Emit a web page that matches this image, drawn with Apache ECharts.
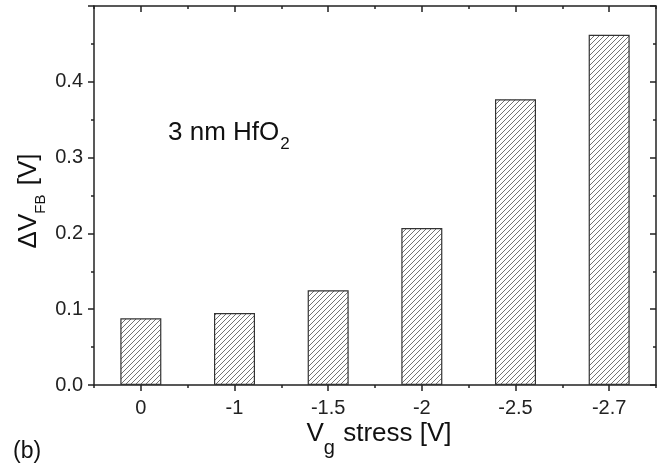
<!DOCTYPE html>
<html>
<head>
<meta charset="utf-8">
<script src="https://cdn.jsdelivr.net/npm/echarts@6/dist/echarts.min.js"></script>
<style>html,body{margin:0;padding:0;background:#fff}#c{width:668px;height:464px}</style>
</head>
<body>
<div id="c"></div>
<script>
const categories = ['0', '-1', '-1.5', '-2', '-2.5', '-2.7'];
const deltaVfb = [0.088, 0.095, 0.125, 0.207, 0.377, 0.462];
const yTicks = [0.0, 0.1, 0.2, 0.3, 0.4];

const FONT = '"Liberation Sans", Arial, sans-serif';
const AX = '#222';

function hatch() {
  const s = 5;
  const c = document.createElement('canvas');
  c.width = s; c.height = s;
  const g = c.getContext('2d');
  g.fillStyle = '#fff';
  g.fillRect(0, 0, s, s);
  g.strokeStyle = '#5a5a5a';
  g.lineWidth = 0.85;
  g.beginPath();
  g.moveTo(-1, s + 1); g.lineTo(s + 1, -1);
  g.moveTo(-1, 1); g.lineTo(1, -1);
  g.moveTo(s - 1, s + 1); g.lineTo(s + 1, s - 1);
  g.stroke();
  return c;
}

const chart = echarts.init(document.getElementById('c'), null, {renderer: 'canvas'});
const lineStyle = {color: AX, width: 1.5};
const baseX = {type: 'category', data: categories, gridIndex: 0, boundaryGap: true,
  axisLine: {show: false}, splitLine: {show: false}, axisLabel: {show: false}};

chart.setOption({
  animation: false,
  grid: {left: 94, right: 12, top: 6, bottom: 79, containLabel: false},
  xAxis: [
    Object.assign({}, baseX, {position: 'bottom',
      axisLine: {show: true, lineStyle: lineStyle},
      axisTick: {show: true, alignWithLabel: true, length: 6, inside: false, lineStyle: lineStyle},
      axisLabel: {show: true, fontFamily: FONT, fontSize: 20, color: '#222', margin: 13}}),
    Object.assign({}, baseX, {position: 'bottom',
      axisTick: {show: true, length: 3, inside: false, lineStyle: lineStyle}}),
    Object.assign({}, baseX, {position: 'top',
      axisLine: {show: true, lineStyle: lineStyle},
      axisTick: {show: true, alignWithLabel: true, length: 6, inside: true, lineStyle: lineStyle}}),
    Object.assign({}, baseX, {position: 'top',
      axisTick: {show: true, length: 3, inside: true, lineStyle: lineStyle}})
  ],
  yAxis: [
    {type: 'value', min: 0, max: 0.5, interval: 0.1, position: 'left',
      axisLine: {show: true, lineStyle: lineStyle},
      axisTick: {show: true, length: 6, lineStyle: lineStyle},
      minorTick: {show: true, splitNumber: 2, length: 3, lineStyle: lineStyle},
      splitLine: {show: false}, minorSplitLine: {show: false},
      axisLabel: {fontFamily: FONT, fontSize: 20, color: '#222', margin: 11,
        formatter: v => yTicks.some(t => Math.abs(t - v) < 1e-9) ? v.toFixed(1) : ''}},
    {type: 'value', min: 0, max: 0.5, interval: 0.1, position: 'right',
      axisLine: {show: true, lineStyle: lineStyle},
      axisTick: {show: true, inside: true, length: 6, lineStyle: lineStyle},
      minorTick: {show: true, splitNumber: 2, length: 3, lineStyle: lineStyle},
      splitLine: {show: false}, axisLabel: {show: false}}
  ],
  series: [{
    type: 'bar', xAxisIndex: 0, yAxisIndex: 0, data: deltaVfb, barWidth: 41,
    itemStyle: {color: {image: hatch(), repeat: 'repeat'}, borderColor: '#333', borderWidth: 1.2}
  }],
  graphic: [
    {type: 'text', left: 168, top: 120, style: {
      text: '{a|3 nm HfO}{s|2}', fill: '#111',
      rich: {a: {fontFamily: FONT, fontSize: 26, fill: '#111', verticalAlign: 'bottom'},
             s: {fontFamily: FONT, fontSize: 17, fill: '#111', padding: [0, 0, -7, 1], verticalAlign: 'bottom'}}}},
    {type: 'text', x: 379, y: 447, style: {
      text: '{a|V}{s|g}{a| stress [V]}', fill: '#111', align: 'center', verticalAlign: 'bottom',
      rich: {a: {fontFamily: FONT, fontSize: 26, fill: '#111', verticalAlign: 'bottom'},
             s: {fontFamily: FONT, fontSize: 20, fill: '#111', padding: [0, 1, -11, 0], verticalAlign: 'bottom'}}}},
    {type: 'text', x: 42, y: 201, rotation: Math.PI / 2, style: {
      text: '{a|ΔV}{s|FB}{a| [V]}', fill: '#111', align: 'center', verticalAlign: 'bottom',
      rich: {a: {fontFamily: FONT, fontSize: 26, fill: '#111', verticalAlign: 'bottom'},
             s: {fontFamily: FONT, fontSize: 15, fill: '#111', padding: [0, 2, -6, 0], verticalAlign: 'bottom'}}}},
    {type: 'text', left: 13, top: 440, style: {text: '(b)', fontFamily: FONT, fontSize: 23, fill: '#111'}}
  ]
});
</script>
</body>
</html>
